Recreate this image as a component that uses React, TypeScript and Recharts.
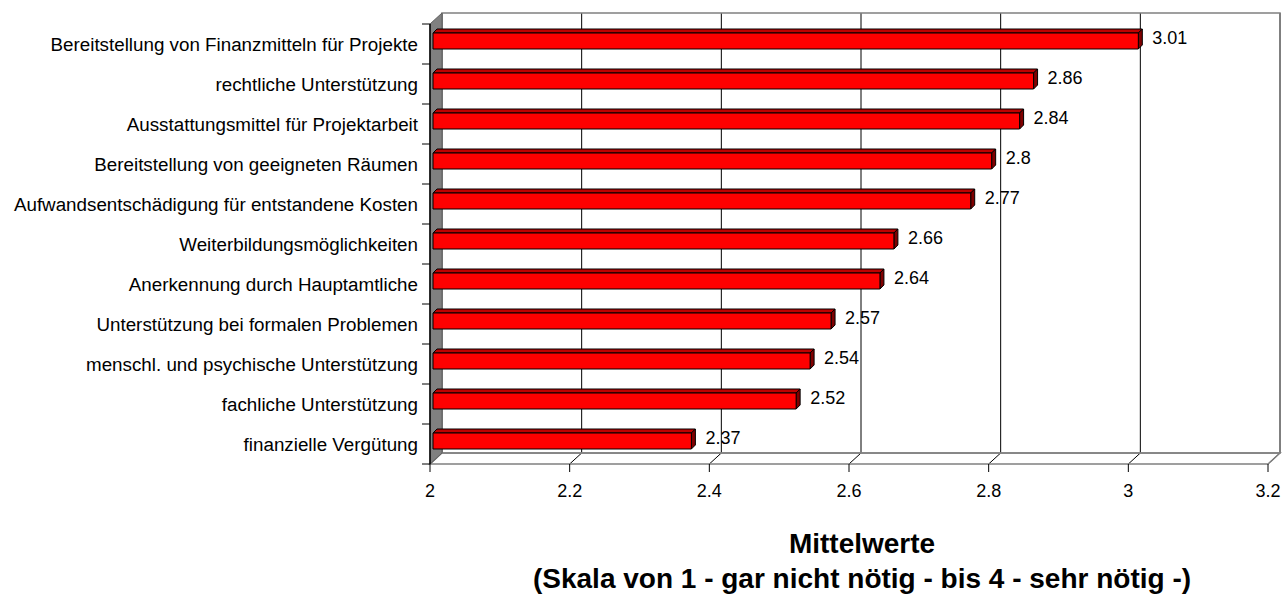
import React from 'react';
import * as R from 'recharts';

const { BarChart, Bar, XAxis, YAxis, CartesianGrid, LabelList } = R as any;

const categories = [
  'Bereitstellung von Finanzmitteln für Projekte',
  'rechtliche Unterstützung',
  'Ausstattungsmittel für Projektarbeit',
  'Bereitstellung von geeigneten Räumen',
  'Aufwandsentschädigung für entstandene Kosten',
  'Weiterbildungsmöglichkeiten',
  'Anerkennung durch Hauptamtliche',
  'Unterstützung bei formalen Problemen',
  'menschl. und psychische Unterstützung',
  'fachliche Unterstützung',
  'finanzielle Vergütung',
];
const values = [3.01, 2.86, 2.84, 2.8, 2.77, 2.66, 2.64, 2.57, 2.54, 2.52, 2.37];
const xTicks = [2, 2.2, 2.4, 2.6, 2.8, 3, 3.2];
const xDomain = [2, 3.2];
const titleLines = ['Mittelwerte', '(Skala von 1 - gar nicht nötig - bis 4 - sehr nötig -)'];

const data = categories.map((name, i) => ({ name, value: values[i] }));

const W = 1283;
const H = 594;
const MARGIN = { top: 24, right: 15, bottom: 100, left: 0 };
const YAXIS_W = 430;
const XAXIS_H = 30;
const DX = 12; // 3D depth offset x
const DY = 11; // 3D depth offset y
const FONT = 'Arial, "Liberation Sans", sans-serif';

const usePA = (R as any).usePlotArea;

function Walls() {
  const pa = usePA ? usePA() : null;
  const a = pa ?? {
    x: MARGIN.left + YAXIS_W,
    y: MARGIN.top,
    width: W - MARGIN.left - YAXIS_W - MARGIN.right,
    height: H - MARGIN.top - MARGIN.bottom - XAXIS_H,
  };
  const l = a.x, t = a.y, r = a.x + a.width, b = a.y + a.height;
  return (
    <g>
      <rect x={l + DX} y={t - DY} width={a.width} height={a.height} fill="none" stroke="#808080" strokeWidth={1.5} />
      <polygon
        points={`${l},${b} ${l + DX},${b - DY} ${r + DX},${b - DY} ${r},${b}`}
        fill="none"
        stroke="#808080"
        strokeWidth={1.5}
      />
      <polygon
        points={`${l},${t} ${l + DX},${t - DY} ${l + DX},${b - DY} ${l},${b}`}
        fill="#808080"
        stroke="#606060"
        strokeWidth={1}
      />
    </g>
  );
}

function Title() {
  return (
    <g fontFamily={FONT} fontWeight="bold" fill="#000" textAnchor="middle">
      <text x={862} y={553} fontSize={28}>{titleLines[0]}</text>
      <text x={862} y={588} fontSize={28}>{titleLines[1]}</text>
    </g>
  );
}

const BAR_OFF = 3;
const BAR_D = 4;

function Bar3D(props: any) {
  const { x, y, width, height } = props;
  if (width == null || height == null) return null;
  const fx = x + BAR_OFF;
  const fy = y - BAR_OFF;
  const d = BAR_D;
  return (
    <g stroke="#000" strokeWidth={1} strokeLinejoin="round">
      <polygon
        points={`${fx},${fy} ${fx + d},${fy - d} ${fx + width + d},${fy - d} ${fx + width},${fy}`}
        fill="#c00000"
      />
      <polygon
        points={`${fx + width},${fy} ${fx + width + d},${fy - d} ${fx + width + d},${fy + height - d} ${fx + width},${fy + height}`}
        fill="#800000"
      />
      <rect x={fx} y={fy} width={width} height={height} fill="#ff0000" />
    </g>
  );
}

function ValueLabel(props: any) {
  const { x, y, width, height, value } = props;
  return (
    <text
      x={x + width + BAR_OFF + 14}
      y={y - BAR_OFF + height / 2 - 3}
      fontFamily={FONT}
      fontSize={18}
      fill="#000"
      dominantBaseline="central"
    >
      {value}
    </text>
  );
}

const BAND = (H - MARGIN.top - MARGIN.bottom - XAXIS_H) / categories.length;

function YTick(props: any) {
  const { x, y, payload, index } = props;
  const ax = x + 12;
  return (
    <g>
      <text x={x} y={y} textAnchor="end" dominantBaseline="central" fontFamily={FONT} fontSize={18.8} fill="#000">
        {payload.value}
      </text>
      {index === 0 && <line x1={ax - 8} x2={ax} y1={y - BAND / 2} y2={y - BAND / 2} stroke="#000" />}
      <line x1={ax - 8} x2={ax} y1={y + BAND / 2} y2={y + BAND / 2} stroke="#000" />
    </g>
  );
}

function gridLine(p: any) {
  const { x1, y1, y2, index } = p;
  const d = `M${x1},${y2} L${x1 + DX},${y2 - DY} L${x1 + DX},${y1 - DY}`;
  return <path key={`g-${index}-${x1}`} d={d} fill="none" stroke="#000" strokeWidth={1} />;
}

export default function App() {
  return (
    <div style={{ position: 'absolute', left: 0, top: 0, width: W, height: H, background: '#fff' }}>
      <BarChart width={W} height={H} data={data} layout="vertical" margin={MARGIN} barCategoryGap={0}>
        <Walls />
        <CartesianGrid horizontal={false} vertical={gridLine} stroke="#000" />
        <XAxis
          type="number"
          dataKey="value"
          domain={xDomain}
          ticks={xTicks}
          allowDataOverflow
          axisLine={false}
          tickLine={{ stroke: '#000' }}
          tickSize={8}
          tickMargin={12}
          height={XAXIS_H}
          interval={0}
          tick={{ fontFamily: FONT, fontSize: 18, fill: '#000' }}
        />
        <YAxis
          type="category"
          dataKey="name"
          width={YAXIS_W}
          axisLine={{ stroke: '#000', strokeWidth: 1.5 }}
          tickLine={false}
          tickSize={0}
          tickMargin={12}
          interval={0}
          tick={<YTick />}
        />
        <Bar dataKey="value" barSize={16} shape={<Bar3D />} isAnimationActive={false}>
          <LabelList dataKey="value" content={<ValueLabel />} />
        </Bar>
        <Title />
      </BarChart>
    </div>
  );
}
